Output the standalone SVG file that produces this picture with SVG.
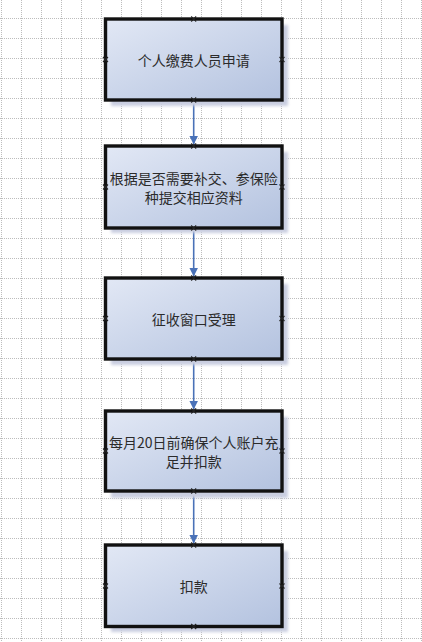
<svg xmlns="http://www.w3.org/2000/svg" width="422" height="642" viewBox="0 0 422 642">
<style>
.grid{fill:none;stroke:#bdbdbd;stroke-width:1;stroke-dasharray:1 1}
.box{stroke:#111;stroke-width:3.4;fill:url(#fillg)}
.shadow{fill:#c9cee0;filter:url(#blur)}
.lbl{font-family:"Noto Sans CJK SC","Liberation Serif",serif;font-size:14px;fill:#2b2b2b;text-anchor:middle;dominant-baseline:central}
.cp{stroke:#222;stroke-width:1.1;fill:none}
.conn{stroke:#4a72b8;stroke-width:1.6;fill:none}
</style>
<defs>
<linearGradient id="fillg" x1="0" y1="0" x2="1" y2="1">
<stop offset="0" stop-color="#e2e8f5"/>
<stop offset="1" stop-color="#b3c2df"/>
</linearGradient>
<filter id="blur" x="-10%" y="-10%" width="120%" height="120%"><feGaussianBlur stdDeviation="1.5"/></filter>
<marker id="arr" viewBox="0 0 10 10" refX="10" refY="5" markerWidth="5.5" markerHeight="6.5" markerUnits="strokeWidth" orient="auto">
<path d="M0,0 L10,5 L0,10 Z" fill="#4a72b8"/>
</marker>
<g id="cpx"><path class="cp" d="M-2.5,-2.5 L2.5,2.5 M-2.5,2.5 L2.5,-2.5"/></g>
</defs>
<rect width="422" height="642" fill="#ffffff"/>
<path class="grid" d="M1.5 0V642M21.5 0V642M41.5 0V642M61.5 0V642M81.5 0V642M101.5 0V642M121.5 0V642M141.5 0V642M161.5 0V642M181.5 0V642M201.5 0V642M221.5 0V642M241.5 0V642M261.5 0V642M281.5 0V642M301.5 0V642M321.5 0V642M341.5 0V642M361.5 0V642M381.5 0V642M401.5 0V642M421.5 0V642M0 18.5H422M0 38.5H422M0 58.5H422M0 78.5H422M0 98.5H422M0 118.5H422M0 138.5H422M0 158.5H422M0 178.5H422M0 198.5H422M0 218.5H422M0 238.5H422M0 258.5H422M0 278.5H422M0 298.5H422M0 318.5H422M0 338.5H422M0 358.5H422M0 378.5H422M0 398.5H422M0 418.5H422M0 438.5H422M0 458.5H422M0 478.5H422M0 498.5H422M0 518.5H422M0 538.5H422M0 558.5H422M0 578.5H422M0 598.5H422M0 618.5H422M0 638.5H422"/>
<g id="connectors">
<path class="conn" d="M193.7 100.5V144.5" marker-end="url(#arr)"/>
<path class="conn" d="M193.7 227.5V276.5" marker-end="url(#arr)"/>
<path class="conn" d="M193.7 359.5V409.5" marker-end="url(#arr)"/>
<path class="conn" d="M193.7 492.5V543.5" marker-end="url(#arr)"/>
</g>
<g id="n1">
<rect class="shadow" x="111" y="25" width="177" height="81"/>
<rect class="box" x="105.5" y="19" width="176.5" height="81"/>
<text class="lbl" x="193.7" y="59.5">个人缴费人员申请</text>
<use href="#cpx" x="193.7" y="19"/><use href="#cpx" x="193.7" y="100"/><use href="#cpx" x="105.5" y="59.5"/><use href="#cpx" x="282" y="59.5"/>
</g>
<g id="n2">
<rect class="shadow" x="111" y="152" width="177" height="81"/>
<rect class="box" x="105.5" y="146" width="176.5" height="82"/>
<text class="lbl" x="193.7" y="178">根据是否需要补交、参保险</text>
<text class="lbl" x="193.7" y="196.5">种提交相应资料</text>
<use href="#cpx" x="193.7" y="146"/><use href="#cpx" x="193.7" y="228"/><use href="#cpx" x="105.5" y="187"/><use href="#cpx" x="282" y="187"/>
</g>
<g id="n3">
<rect class="shadow" x="111" y="284" width="177" height="81"/>
<rect class="box" x="105.5" y="278" width="176.5" height="81"/>
<text class="lbl" x="193.7" y="318.5">征收窗口受理</text>
<use href="#cpx" x="193.7" y="278"/><use href="#cpx" x="193.7" y="359"/><use href="#cpx" x="105.5" y="318.5"/><use href="#cpx" x="282" y="318.5"/>
</g>
<g id="n4">
<rect class="shadow" x="111" y="417" width="177" height="81"/>
<rect class="box" x="105.5" y="411" width="176.5" height="80"/>
<text class="lbl" x="193.7" y="442">每月20日前确保个人账户充</text>
<text class="lbl" x="193.7" y="461">足并扣款</text>
<use href="#cpx" x="193.7" y="411"/><use href="#cpx" x="193.7" y="491"/><use href="#cpx" x="105.5" y="451"/><use href="#cpx" x="282" y="451"/>
</g>
<g id="n5">
<rect class="shadow" x="111" y="551" width="177" height="81"/>
<rect class="box" x="105.5" y="545" width="176.5" height="81.5"/>
<text class="lbl" x="193.7" y="586">扣款</text>
<use href="#cpx" x="193.7" y="545"/><use href="#cpx" x="193.7" y="626.5"/><use href="#cpx" x="105.5" y="586"/><use href="#cpx" x="282" y="586"/>
</g>
</svg>
